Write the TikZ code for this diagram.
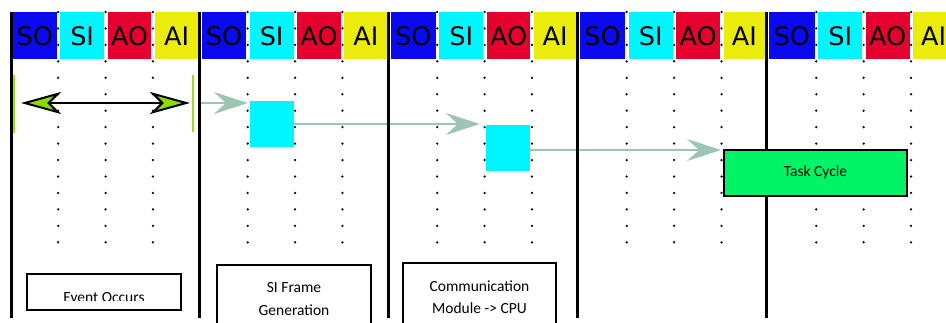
\documentclass[tikz,border=0pt]{standalone}
\usepackage{fontspec}
\setmainfont{Carlito}
\newfontfamily\hdrfont{DejaVu Sans}
\usetikzlibrary{arrows.meta,calc}

\pgfdeclarelayer{bg}
\pgfdeclarelayer{flow}
\pgfdeclarelayer{lines}
\pgfsetlayers{bg,flow,lines,main}

\definecolor{soBlue}{HTML}{0A0AF0}
\definecolor{siCyan}{HTML}{00F6FF}
\definecolor{aoRed}{HTML}{E6002E}
\definecolor{aiYellow}{HTML}{ECEC0C}
\definecolor{taskGreen}{HTML}{00F466}
\definecolor{flowGray}{HTML}{9CC5B3}
\definecolor{markGreen}{HTML}{9BE01C}
\definecolor{headGreen}{HTML}{8CDC00}
\colorlet{cellc0}{soBlue}
\colorlet{cellc1}{siCyan}
\colorlet{cellc2}{aoRed}
\colorlet{cellc3}{aiYellow}

\begin{document}
\begin{tikzpicture}[x=1pt,y=-1pt,
  declare function={bnd(\t)=(mod(\t,4)==0)*(11+47.2375*\t)+(1-(mod(\t,4)==0))*(10.8+47.38*\t);},
  cell/.style={rectangle, inner sep=0pt, minimum height=47pt, text height=20pt, text depth=0pt,
    font=\hdrfont\fontsize{25.5}{28}\selectfont},
  slotline/.style={line width=3pt, draw=black},
  markbar/.style={line width=2pt, draw=markGreen},
  span/.style={draw=black, line width=2pt,
    {Stealth[length=40pt,width=22pt,inset=11pt,fill=headGreen]}-{Stealth[length=40pt,width=22pt,inset=11pt,fill=headGreen]}},
  flow/.style={draw=flowGray, line width=2.5pt, -{Stealth[length=34pt,width=22pt,inset=12pt]}},
  frame/.style={rectangle, inner sep=0pt, fill=siCyan, minimum width=44pt, minimum height=46pt},
  stage/.style={rectangle, draw=black, line width=1.6pt, inner sep=0pt, minimum width=154pt},
  lbl/.style={inner sep=0pt, anchor=base, font=\fontsize{15.5}{23}\selectfont},
  task/.style={rectangle, draw=black, line width=2pt, fill=taskGreen, inner sep=0pt,
    minimum width=183pt, minimum height=46pt, text height=10pt, text depth=3pt,
    font=\fontsize{15.5}{18}\selectfont}
]
\useasboundingbox (0,0) rectangle (946,322);

% slot header and dotted slot grid
\begin{pgfonlayer}{bg}
\foreach \n in {0,...,19}{
  \pgfmathsetmacro\xa{bnd(\n)}
  \pgfmathsetmacro\xb{bnd(\n+1)}
  \pgfmathtruncatemacro\ci{mod(\n,4)}
  \pgfmathsetmacro\cw{\xb-\xa-3.5}
  \pgfmathsetmacro\xm{(\xa+\xb)/2+0.25}
  \node[cell, fill=cellc\ci, minimum width=\cw pt] (h\n) at (\xm,35.5)
    {\ifcase\ci SO\or SI\or AO\or AI\fi};
}
\foreach \n in {1,...,19}{
  \pgfmathtruncatemacro\ci{mod(\n,4)}
  \ifnum\ci>0
    \pgfmathsetmacro\xa{bnd(\n)}
    \foreach \m in {0,...,14}{\fill[black] (\xa,12+16.45*\m) circle (1.25pt);}
  \fi
}
\end{pgfonlayer}

% cycle boundaries
\begin{pgfonlayer}{lines}
\foreach \ci in {0,...,4}{
  \draw[slotline] (11+188.95*\ci,12) -- (11+188.95*\ci,318);
}
\end{pgfonlayer}

% frames and task
\node[frame] (b1) at (272,124) {};
\node[frame] (b2) at (508,148) {};
\node[task] (task) at (815.5,173) {Task Cycle};

% event window
\coordinate (evL) at (14,103);
\coordinate (evR) at (193,103);
\draw[markbar] ($(evL)+(0,-28)$) -- ($(evL)+(0,30)$);
\draw[markbar] ($(evR)+(0,-28)$) -- ($(evR)+(0,29)$);
\draw[span, shorten <=7pt, shorten >=3pt] (evL) -- (evR);

\begin{pgfonlayer}{flow}
\draw[flow, shorten <=5pt] (evR) -- ($(evR -| b1.west)+(-2,0)$);
\draw[flow] (b1.east) -- ($(b1.east -| b2.west)+(-6,0)$);
\draw[flow] ($(b2.east)+(0,2)$) -- ($(b2.east -| task.west)+(-2,2)$);
\end{pgfonlayer}

% stage captions
\node[stage, minimum height=36pt] (evbox) at (104,292) {};
\begin{scope}
  \clip (27,274) rectangle (181,300.8);
  \node[lbl] (evtxt) at (104,302.4) {Event Occurs};
\end{scope}
\node[stage, minimum height=70pt] (sibox) at (294,300) {};
\node[lbl] (sitxt1) at (294,292) {SI Frame};
\node[lbl] (sitxt2) at (294,315) {Generation};
\node[stage, minimum height=72pt, minimum width=153pt] (cmbox) at (479.5,299) {};
\node[lbl] (cmtxt1) at (479.5,291) {Communication};
\node[lbl] (cmtxt2) at (479.5,313) {Module -> CPU};
\end{tikzpicture}
\end{document}
